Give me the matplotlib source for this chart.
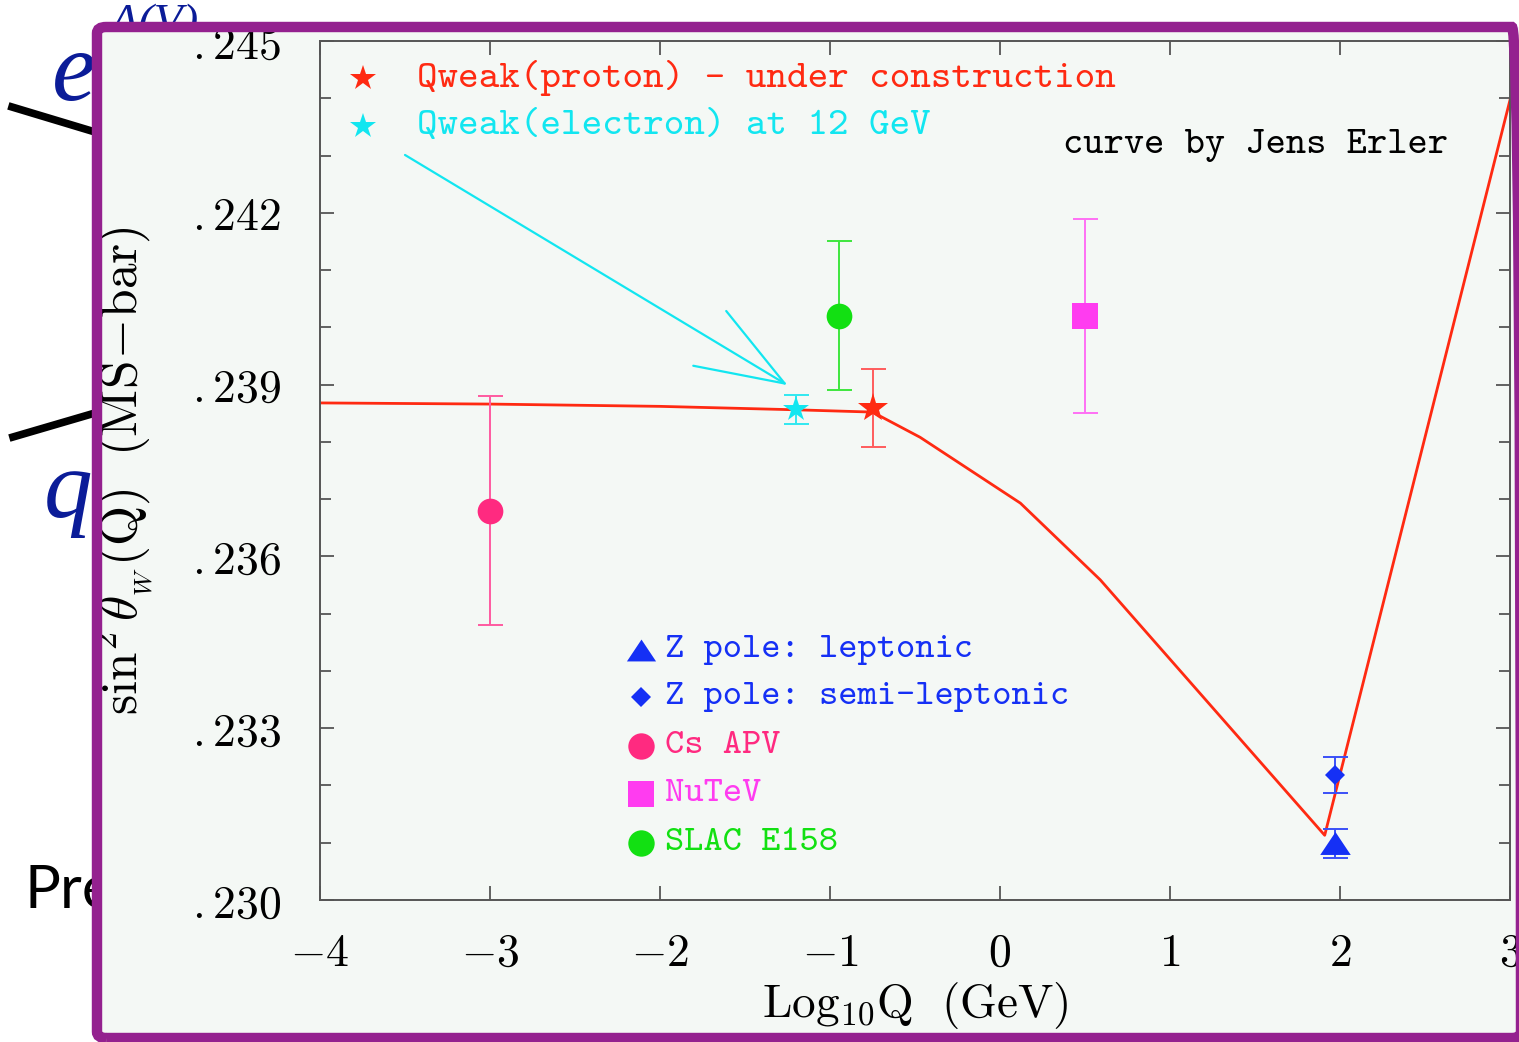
import numpy as np
import matplotlib.pyplot as plt
from matplotlib.lines import Line2D
from matplotlib.patches import Rectangle, FancyBboxPatch
from matplotlib.ticker import MultipleLocator

plt.rcParams['mathtext.fontset'] = 'cm'
plt.rcParams['axes.unicode_minus'] = False

W, H = 1519, 1042

# pixel -> figure fraction helpers (for the slide decoration only)
def fx(x):
    return x / W

def fy(y):
    return 1 - y / H

# running curve (Erler)
curve_x = [-4.0, -3.0, -2.0, -1.2, -0.75, -0.47, 0.12, 0.59, 1.91, 3.0]
curve_y = [0.23868, 0.23866, 0.23862, 0.23856, 0.23852, 0.23808, 0.23693,
           0.23559, 0.23113, 0.24397]

# measurements: x = log10 Q, y = sin^2 theta_W, err
cs_x, cs_y, cs_err = [-3.0], [0.2368], [0.0020]
slac_x, slac_y, slac_err = [-0.95], [0.2402], [0.0013]
nutev_x, nutev_y, nutev_err = [0.5], [0.2402], [0.0017]
qe_x, qe_y, qe_err = [-1.2], [0.23857], [0.00025]
qp_x, qp_y, qp_err = [-0.75], [0.23859], [0.00068]
zsemi_x, zsemi_y, zsemi_err = [1.97], [0.23218], [0.00031]
zlep_x, zlep_y, zlep_err = [1.97], [0.23099], [0.00025]

xticks = [-4, -3, -2, -1, 0, 1, 2, 3]
xtick_labels = [r'$-4$', r'$-3$', r'$-2$', r'$-1$', r'$0$', r'$1$', r'$2$', r'$3$']
yticks = [0.230, 0.233, 0.236, 0.239, 0.242, 0.245]
ytick_labels = [r'$.230$', r'$.233$', r'$.236$', r'$.239$', r'$.242$', r'$.245$']

RED = '#ff2a12'
CYAN = '#12e6f0'
BLUE = '#1530f5'
PINK = '#ff2a80'
MAGENTA = '#ff3cf0'
GREEN = '#12e012'
tri = [(-1, -0.75), (1, -0.75), (0, 0.75)]

fig = plt.figure(figsize=(15.19, 10.42), dpi=100)
fig.patch.set_facecolor('white')

# slide leftovers peeking out behind the framed plot
deco_blue = '#0b1c98'
fig.text(fx(52), fy(100), 'e', fontsize=72, family='Liberation Serif', style='italic',
         color=deco_blue, va='baseline', zorder=-3)
fig.text(fx(110), fy(4), 'A(V)', fontsize=34, family='Liberation Serif', style='italic',
         color=deco_blue, va='top', zorder=-3)
fig.text(fx(44), fy(517), 'q', fontsize=70, family='Liberation Serif', style='italic',
         color=deco_blue, va='baseline', zorder=-3)
fig.text(fx(24), fy(908), 'Pre', fontsize=43, family='Lato', color='black',
         va='baseline', zorder=-3)
fig.add_artist(Line2D([fx(12), fx(95)], [fy(107), fy(132)], color='black', lw=5.5,
                      transform=fig.transFigure, zorder=-3))
fig.add_artist(Line2D([fx(13), fx(95)], [fy(437), fy(413)], color='black', lw=5.5,
                      transform=fig.transFigure, zorder=-3))

# pale plot background and purple frame
fig.add_artist(Rectangle((fx(97), fy(1045)), fx(1530) - fx(97), fy(27) - fy(1045),
                         transform=fig.transFigure, facecolor='#f4f8f5',
                         edgecolor='none', zorder=-1))
fig.add_artist(FancyBboxPatch((fx(97), fy(1038)), fx(1521) - fx(97), fy(27) - fy(1038),
                              boxstyle='round,pad=0,rounding_size=0.006',
                              transform=fig.transFigure, facecolor='none',
                              edgecolor='#94218f', lw=7.5, zorder=10))

ax = fig.add_axes([fx(320), fy(900), fx(1510) - fx(320), fy(41) - fy(900)])
ax.set_facecolor('none')
ax.set_zorder(1)

ax.plot(curve_x, curve_y, color=RED, lw=2.0, zorder=2)

def point(x, y, err, color, ecolor, marker, ms):
    ax.errorbar(x, y, yerr=err, fmt='none', ecolor=ecolor, elinewidth=1.4,
                capsize=9, capthick=1.4, zorder=3)
    ax.plot(x, y, linestyle='none', marker=marker, ms=ms, color=color,
            markeredgewidth=0, zorder=4)

point(cs_x, cs_y, cs_err, PINK, '#ff5aa0', 'o', 18.5)
point(slac_x, slac_y, slac_err, GREEN, '#3ee63e', 'o', 18.5)
point(nutev_x, nutev_y, nutev_err, MAGENTA, '#ff70f4', 's', 19)
point(qe_x, qe_y, qe_err, CYAN, '#30e8f0', '*', 19)
point(qp_x, qp_y, qp_err, RED, '#ff5c5c', '*', 22)
point(zsemi_x, zsemi_y, zsemi_err, BLUE, '#3a50f8', 'D', 10.5)
point(zlep_x, zlep_y, zlep_err, BLUE, '#3a50f8', tri, 22)

# arrow pointing to the electron Qweak point
ax.annotate('', xy=(-1.25, 0.23899), xytext=(-3.5, 0.24301),
            arrowprops=dict(arrowstyle='->,head_length=6.3,head_width=2.3',
                            color=CYAN, lw=1.6, shrinkA=0, shrinkB=0,
                            mutation_scale=10), zorder=3)

# top legend
top_labels = ['Qweak(proton) - under construction', 'Qweak(electron) at 12 GeV']
top_colors = [RED, CYAN]
top_rows = [0.957, 0.901]
for lab, c, yy in zip(top_labels, top_colors, top_rows):
    ax.plot([0.036], [yy], transform=ax.transAxes, marker='*', ms=19, color=c,
            markeredgewidth=0, clip_on=False)
    ax.text(0.0815, yy, lab, transform=ax.transAxes, color=c, fontsize=28.2,
            family='cmtt10', va='center', ha='left')

ax.text(0.624, 0.878, 'curve by Jens Erler', transform=ax.transAxes, color='black',
        fontsize=27.8, family='cmtt10', va='center', ha='left')

# bottom legend
leg_labels = ['Z pole: leptonic', 'Z pole: semi-leptonic', 'Cs APV', 'NuTeV', 'SLAC E158']
leg_colors = [BLUE, BLUE, PINK, MAGENTA, GREEN]
leg_markers = [tri, 'D', 'o', 's', 'o']
leg_ms = [21, 10.5, 19, 19, 19]
leg_rows = [0.291, 0.236, 0.179, 0.123, 0.066]
for lab, c, m, s, yy in zip(leg_labels, leg_colors, leg_markers, leg_ms, leg_rows):
    ax.plot([0.2695], [yy], transform=ax.transAxes, marker=m, ms=s, color=c,
            markeredgewidth=0, clip_on=False)
    ax.text(0.290, yy, lab, transform=ax.transAxes, color=c, fontsize=26.4,
            family='cmtt10', va='center', ha='left')

ax.set_xlim(-4, 3)
ax.set_ylim(0.230, 0.245)
ax.set_xticks(xticks)
ax.set_xticklabels(xtick_labels)
ax.set_yticks(yticks)
ax.set_yticklabels(ytick_labels)
ax.yaxis.set_minor_locator(MultipleLocator(0.001))

for sp in ax.spines.values():
    sp.set_color('#555555')
    sp.set_linewidth(1.4)
ax.tick_params(which='both', direction='in', top=True, right=True,
               color='#555555', width=1.3)
ax.tick_params(which='major', length=10)
ax.tick_params(which='minor', length=8)
ax.tick_params(axis='x', labelsize=33, pad=22)
ax.tick_params(axis='y', labelsize=33, pad=28)

ax.set_xlabel(r'$\mathrm{Log}_{10}\mathrm{Q}\ \ (\mathrm{GeV})$', fontsize=34, labelpad=3)
ax.set_ylabel(r'$\sin^2\theta_{_W}(\mathrm{Q})\ \ (\mathrm{MS}\!-\!\mathrm{bar})$',
              fontsize=37, labelpad=26)

fig.savefig('out.png', dpi=100)
